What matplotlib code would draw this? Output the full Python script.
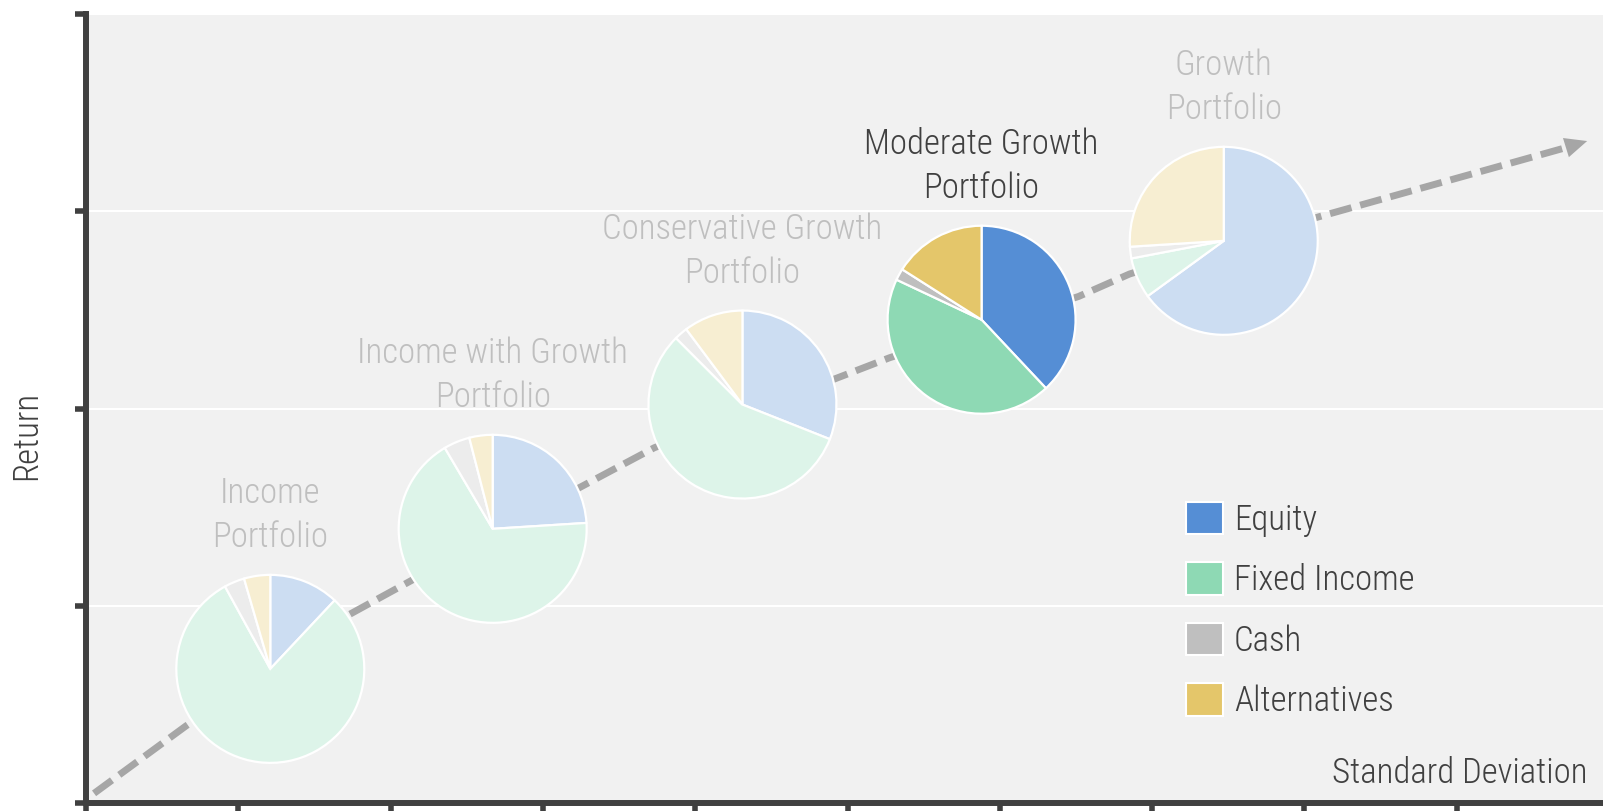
import matplotlib
matplotlib.use('Agg')
import matplotlib.pyplot as plt
from matplotlib.patches import Patch
from matplotlib.colors import to_rgb
from matplotlib import font_manager
import numpy as np

# pick a narrow face if one is there, the chart uses a condensed font
fonts = font_manager.fontManager.ttflist
names_avail = {f.name for f in fonts}
font_name = 'Roboto'
for cand in ['Roboto Condensed', 'Liberation Sans Narrow', 'Open Sans Condensed', 'Noto Sans Condensed']:
    if cand in names_avail:
        font_name = cand
        break
else:
    if any(f.name == 'DejaVu Sans' and f.stretch == 'condensed' for f in fonts):
        font_name = 'DejaVu Sans'
        plt.rcParams['font.stretch'] = 'condensed'
plt.rcParams['font.family'] = [font_name, 'DejaVu Sans']
plt.rcParams['font.weight'] = 'light'
plt.rcParams['axes.labelweight'] = 'light'

# portfolio data (percent allocation)
names = ['Income\nPortfolio', 'Income with Growth\nPortfolio', 'Conservative Growth\nPortfolio',
         'Moderate Growth\nPortfolio', 'Growth\nPortfolio']
equity = [12, 24, 31, 38, 65]
fixed_income = [80, 67.5, 56.5, 44, 7]
cash = [3.5, 4.5, 2.3, 2, 2]
alternatives = [4.5, 4, 10.2, 16, 26]
pie_x = [1.21, 2.67, 4.31, 5.88, 7.47]
pie_y = [0.68, 1.39, 2.02, 2.45, 2.85]
highlight = 3

# dashed risk/return curve
curve_x = [0.053, 0.657, 1.718, 2.134, 3.228, 3.731, 4.926, 5.275, 6.517, 6.852, 8.095, 9.705]
curve_y = [0.049, 0.391, 0.951, 1.127, 1.594, 1.801, 2.153, 2.257, 2.568, 2.682, 2.972, 3.320]
tip_x, tip_y = 9.856, 3.356

classes = ['Equity', 'Fixed Income', 'Cash', 'Alternatives']
colors = ['#558ed5', '#8ed9b4', '#bfbfbf', '#e4c66a']
dark = '#404040'
fs = 25


def tint(c, a=0.3):
    r = np.array(to_rgb(c))
    return tuple(1 - a * (1 - r))


fig = plt.figure(figsize=(16.03, 8.11), dpi=100)
ax = fig.add_axes([86 / 1603, 8 / 811, 1517 / 1603, 789 / 811])
ax.set_facecolor('#f1f1f1')
ax.set_xlim(0, 9.96)
ax.set_ylim(0, 4)
ax.set_xticks(range(10))
ax.set_yticks(range(5))
ax.set_xticklabels([])
ax.set_yticklabels([])
ax.tick_params(length=8, width=4, color=dark, direction='out')
ax.yaxis.grid(True, color='white', lw=1.5)
ax.set_axisbelow(True)
for s in ['top', 'right']:
    ax.spines[s].set_visible(False)
for s in ['left', 'bottom']:
    ax.spines[s].set_linewidth(4.3)
    ax.spines[s].set_color(dark)

# curve + arrow head
ax.plot(curve_x, curve_y, color='#a6a6a6', lw=5, dashes=(3.2, 1.3), solid_capstyle='butt',
        dash_capstyle='butt', zorder=2)
ax.annotate('', xy=(tip_x, tip_y), xytext=(curve_x[-1], curve_y[-1]),
            arrowprops=dict(arrowstyle='-|>,head_length=0.8,head_width=0.36', color='#a6a6a6',
                            lw=0, mutation_scale=20, shrinkA=0, shrinkB=0), zorder=2)

# pies in small square axes at data positions
radius_px = 94
p0 = ax.transData.transform((0, 0))
p1 = ax.transData.transform((1, 1))
ux, uy = p1 - p0
pad = 1.04
w = 2 * radius_px * pad / ux
h = 2 * radius_px * pad / uy
for i in range(len(names)):
    vals = [equity[i], fixed_income[i], cash[i], alternatives[i]]
    cols = colors if i == highlight else [tint(c) for c in colors]
    iax = ax.inset_axes([pie_x[i] - w / 2, pie_y[i] - h / 2, w, h], transform=ax.transData, zorder=3)
    iax.pie(vals, colors=cols, startangle=90, counterclock=False,
            wedgeprops=dict(edgecolor='white', linewidth=1.6))
    iax.set_xlim(-pad, pad)
    iax.set_ylim(-pad, pad)
    iax.set_aspect('equal')
    iax.axis('off')
    ax.annotate(names[i], xy=(pie_x[i], pie_y[i]), xytext=(0, (radius_px + 28) * 0.72),
                textcoords='offset points', ha='center', va='baseline', fontsize=fs,
                color=dark if i == highlight else '#bfbfbf', linespacing=1.38, zorder=4)

handles = [Patch(facecolor=c, edgecolor='white', linewidth=1.5, label=l) for c, l in zip(colors, classes)]
ax.legend(handles=handles, loc='upper left', bbox_to_anchor=(0.725, 0.382), frameon=False,
          fontsize=fs, handlelength=1.07, handleheight=1.07, handletextpad=0.32,
          labelspacing=0.73, borderpad=0, borderaxespad=0, labelcolor=dark)

ax.set_xlabel('Standard Deviation', fontsize=fs, color=dark, ha='right', va='baseline')
ax.xaxis.set_label_coords(0.99, 0.0253)
ax.set_ylabel('Return', fontsize=fs, color=dark, va='center')
ax.yaxis.set_label_coords(-0.0392, 0.466)

fig.savefig('out.png', dpi=100)
